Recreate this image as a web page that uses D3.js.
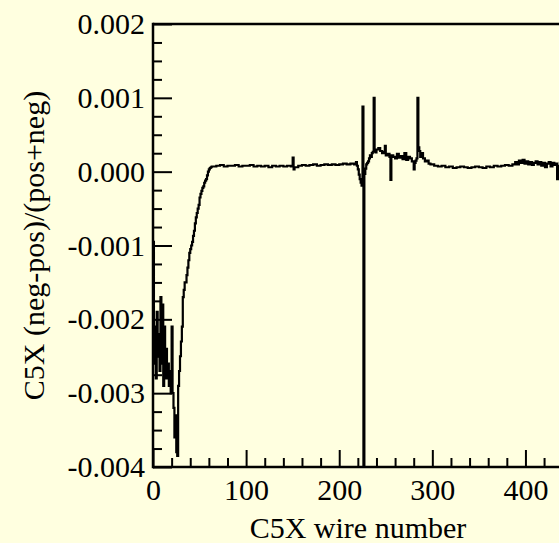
<!DOCTYPE html>
<html>
<head>
<meta charset="utf-8">
<script src="https://cdn.jsdelivr.net/npm/d3@7"></script>
<style>
  html, body { margin: 0; padding: 0; background: #FFFFE0; }
  svg { display: block; }
  text { font-family: "Liberation Serif", "Times New Roman", serif; fill: #000; }
</style>
</head>
<body>
<svg id="chart" width="559" height="543"></svg>
<script>
// ---- data ----
const wires = [
  0,1,2,3,4,5,6,7,8,9,10,11,12,13,14,15,16,17,18,19,20,21,22,23,24,25,26,27,28,29,
  30,31,32,33,34,35,36,37,38,39,40,41,42,43,44,45,46,47,48,49,50,51,52,53,54,55,56,57,58,59,
  60,61,62,63,64,68,72,76,80,84,88,92,96,100,104,108,112,116,120,124,128,132,136,140,144,148,
  150,151,152,156,160,164,168,172,176,180,184,188,192,196,200,204,208,212,216,218,219,220,221,222,223,224,
  225,226,227,228,229,230,231,232,233,234,235,236,237,238,239,240,242,244,246,248,249,250,252,254,
  255,256,258,260,262,264,266,268,270,272,274,276,278,280,281,282,283,284,285,286,287,288,290,292,294,296,
  298,302,306,310,314,318,322,326,330,334,338,342,346,350,354,358,362,366,370,374,378,382,386,389,391,
  393,395,397,399,401,403,405,407,409,411,413,415,417,419,421,423,425,427,429,431,433,434,435,437,439,441
];
const asymmetry = [
  -0.00095,-0.0026,-0.0021,-0.0028,-0.0019,-0.0025,-0.0022,-0.0027,-0.0017,-0.0026,-0.0018,-0.0029,-0.0021,-0.0028,-0.0024,-0.0028,-0.0026,-0.0029,-0.0027,-0.0030,-0.0021,-0.0030,-0.0032,-0.0036,-0.0033,-0.0038,-0.00385,-0.0029,-0.0027,-0.0025,
  -0.0023,-0.0021,-0.0017,-0.0016,-0.0015,-0.0015,-0.0014,-0.0013,-0.0012,-0.0011,-0.00105,-0.0010,-0.00095,-0.00087,-0.0008,-0.0007,-0.00062,-0.00056,-0.0005,-0.00045,-0.00035,-0.0003,-0.00026,-0.00022,-0.0002,-0.00015,-0.00012,-0.0001,-0.00005,0.0,
  0.00003,0.00005,0.00006,0.00007,0.00007,0.00008,0.00009,0.00007,0.00008,0.00008,0.00009,0.00007,0.00008,0.00008,0.00009,0.00007,0.00008,0.00007,0.00008,0.00006,0.00008,0.00007,0.00008,0.00007,0.00008,0.00007,
  0.00019,0.00003,0.00006,0.00008,0.00009,0.00008,0.00009,0.0001,0.00008,0.00009,0.0001,0.00009,0.0001,0.00009,0.0001,0.00011,0.0001,0.00011,0.0001,0.00013,0.00008,0.00003,-0.00004,-0.0001,-0.00015,-0.00019,
  0.00088,-0.0045,-0.00003,0.00004,0.0001,0.00012,0.00014,0.00018,0.00022,0.0002,0.00025,0.00027,0.001,0.00028,0.00026,0.0003,0.00032,0.00028,0.00025,0.00027,0.00035,0.00022,0.00024,0.0002,
  -0.00011,0.00022,0.0002,0.00018,0.00024,0.00019,0.00021,0.00017,0.00025,0.00016,0.0002,0.00018,0.00014,0.00003,0.00012,0.00015,0.00018,0.001,0.00033,0.00028,0.0002,0.00025,0.00018,0.00014,0.00015,0.00011,
  0.0001,0.00008,0.00007,0.00008,0.00006,0.00007,0.00005,0.00006,0.00007,0.00006,0.00005,0.00006,0.00007,0.00006,0.00005,0.00007,0.00006,0.00008,0.00007,0.00008,0.00009,0.00008,0.0001,0.00013,0.0001,
  0.00015,0.00012,0.00016,0.00011,0.00014,0.0001,0.00013,0.00009,0.00012,0.00014,0.0001,0.00013,0.00008,0.00012,0.00006,0.00011,0.00013,0.00007,0.00012,0.00009,0.00011,-0.0001,0.00008,0.00012,0.0001,0.0001
];
const xMajorTicks = [0, 100, 200, 300, 400];
const xTickLabels = ["0", "100", "200", "300", "400"];
const xMinorTicks = [20,40,60,80,120,140,160,180,220,240,260,280,320,340,360,380,420,440];
const yMajorTicks = [-0.004, -0.003, -0.002, -0.001, 0.0, 0.001, 0.002];
const yTickLabels = ["-0.004", "-0.003", "-0.002", "-0.001", "0.000", "0.001", "0.002"];
const yMinorTicks = [-0.00375,-0.0035,-0.00325,-0.00275,-0.0025,-0.00225,-0.00175,-0.0015,-0.00125,
                     -0.00075,-0.0005,-0.00025,0.00025,0.0005,0.00075,0.00125,0.0015,0.00175];
const xTitle = "C5X wire number";
const yTitle = "C5X (neg-pos)/(pos+neg)";

// ---- layout ----
const plotLeft = 153, plotTop = 24, plotBottom = 467, plotRight = 572;
const svg = d3.select("#chart");
svg.append("rect").attr("width", 559).attr("height", 543).attr("fill", "#FFFFE0");

const x = d3.scaleLinear().domain([0, 450]).range([plotLeft, plotRight]);
const y = d3.scaleLinear().domain([-0.004, 0.002]).range([plotBottom, plotTop]);

svg.append("clipPath").attr("id", "plotclip")
  .append("rect").attr("x", plotLeft).attr("y", plotTop)
  .attr("width", plotRight - plotLeft).attr("height", plotBottom - plotTop);

// data line (histogram steps)
const pts = wires.map((w, i) => [w, asymmetry[i]]);
const line = d3.line().x(d => x(d[0])).y(d => y(d[1])).curve(d3.curveStepAfter);
svg.append("path")
  .datum(pts)
  .attr("clip-path", "url(#plotclip)")
  .attr("fill", "none")
  .attr("stroke", "#000")
  .attr("stroke-width", 2.2)
  .attr("d", line);

// axes
const fontSize = 30;
function styleAxis(g) {
  g.selectAll(".tick line").attr("stroke", "#000").attr("stroke-width", 2);
  g.select(".domain").remove();
  g.selectAll("text").attr("font-size", fontSize)
    .attr("font-family", "'Liberation Serif', 'Times New Roman', serif").attr("fill", "#000");
}
const gyMinor = svg.append("g").attr("transform", `translate(${plotLeft},0)`)
  .call(d3.axisLeft(y).tickValues(yMinorTicks).tickSize(-9).tickFormat(""));
styleAxis(gyMinor);
const gy = svg.append("g").attr("transform", `translate(${plotLeft},0)`)
  .call(d3.axisLeft(y).tickValues(yMajorTicks).tickSize(-19).tickPadding(8)
    .tickFormat((d, i) => yTickLabels[i]));
styleAxis(gy);
const gxMinor = svg.append("g").attr("transform", `translate(0,${plotBottom})`)
  .call(d3.axisBottom(x).tickValues(xMinorTicks).tickSize(-9).tickFormat(""));
styleAxis(gxMinor);
const gx = svg.append("g").attr("transform", `translate(0,${plotBottom})`)
  .call(d3.axisBottom(x).tickValues(xMajorTicks).tickSize(-17).tickPadding(12)
    .tickFormat((d, i) => xTickLabels[i]));
styleAxis(gx);

// frame lines
const frame = svg.append("g").attr("stroke", "#000").attr("stroke-width", 2.5);
frame.append("line").attr("x1", plotLeft).attr("x2", plotLeft).attr("y1", plotTop - 1.25).attr("y2", plotBottom + 1.25);
frame.append("line").attr("x1", plotLeft).attr("x2", plotRight).attr("y1", plotTop).attr("y2", plotTop);
frame.append("line").attr("x1", plotLeft).attr("x2", plotRight).attr("y1", plotBottom).attr("y2", plotBottom);

// titles
svg.append("text").attr("x", 358).attr("y", 538).attr("text-anchor", "middle")
  .attr("font-size", fontSize).text(xTitle);
svg.append("text").attr("transform", `translate(44,${(plotTop + plotBottom) / 2}) rotate(-90)`)
  .attr("text-anchor", "middle").attr("font-size", fontSize).text(yTitle);
</script>
</body>
</html>
